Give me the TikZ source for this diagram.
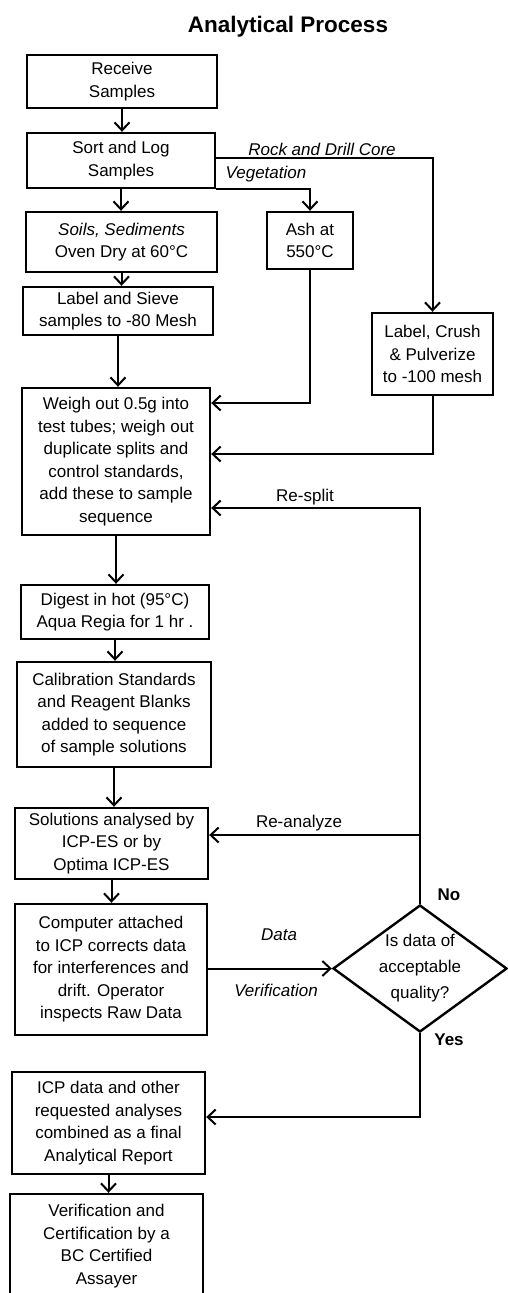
\documentclass[tikz,border=0pt]{standalone}
\usepackage{fontspec}
\setmainfont{Liberation Sans}
\usetikzlibrary{arrows.meta,shapes.geometric}
\begin{document}
\begin{tikzpicture}[x=1pt,y=-1pt,
  box/.style={draw, line width=2.4pt, inner sep=0pt, align=center, font=\fontsize{17}{22.5}\selectfont},
  dia/.style={draw, diamond, line width=2.4pt, inner sep=0pt},
  conn/.style={line width=2pt},
  arr/.style={conn, -{Straight Barb[length=8pt,width=15pt]}},
  lab/.style={font=\fontsize{17}{20}\selectfont, inner sep=0pt},
  ilab/.style={lab, font=\fontsize{17}{20}\selectfont\itshape},
  blab/.style={lab, font=\fontsize{17}{20}\selectfont\bfseries},
]
\useasboundingbox (0,0) rectangle (507,1293);
\fill[white] (0,0) rectangle (507,1293);

\node[font=\fontsize{22.5}{26}\selectfont\bfseries, inner sep=0pt] (title) at (288,27) {Analytical Process};

\node[box, minimum width=190pt, minimum height=53pt] (recv) at (122,81.5) {Receive\\Samples};
\node[box, minimum width=188pt, minimum height=55pt] (sort) at (121,160.5) {Sort and Log\\Samples};
\node[box, minimum width=191pt, minimum height=60pt] (soils) at (121.5,242) {\textit{Soils, Sediments}\\Oven Dry at 60°C};
\node[box, minimum width=86pt, minimum height=57pt] (ash) at (310,240.5) {Ash at\\550°C};
\node[box, minimum width=190pt, minimum height=48pt] (sieve) at (118,311) {Label and Sieve\\samples to -80 Mesh};
\node[box, minimum width=121pt, minimum height=82pt] (crush) at (432.5,354) {Label, Crush\\\& Pulverize\\to -100 mesh};
\node[box, minimum width=188pt, minimum height=147pt] (weigh) at (116,461.5) {Weigh out 0.5g into\\test tubes; weigh out\\duplicate splits and\\control standards,\\add these to sample\\sequence};
\node[box, minimum width=188pt, minimum height=54pt] (digest) at (115,612) {Digest in hot (95°C)\\Aqua Regia for 1 hr .};
\node[box, minimum width=194pt, minimum height=105pt] (calib) at (114,714.5) {Calibration Standards\\and Reagent Blanks\\added to sequence\\of sample solutions};
\node[box, minimum width=193pt, minimum height=71pt] (sol) at (111.5,843.5) {Solutions analysed by\\ICP-ES or by\\Optima ICP-ES};
\node[box, minimum width=192pt, minimum height=131pt] (comp) at (111,969.5) {Computer attached\\to ICP corrects data\\for interferences and\\drift. Operator\\inspects Raw Data};
\node[box, minimum width=193pt, minimum height=102pt] (icp) at (108.5,1123) {ICP data and other\\requested analyses\\combined as a final\\Analytical Report};
\node[box, minimum width=193pt, minimum height=104pt] (verif) at (106.5,1246) {Verification and\\Certification by a\\BC Certified\\Assayer};

\node[dia, minimum width=174pt, minimum height=127pt] (dec) at (420,968.5) {};
\node[align=center, inner sep=0pt, font=\fontsize{17}{26}\selectfont] (dectext) at (dec.center) {Is data of\\acceptable\\quality?};

% main vertical flow
\draw[arr] (recv.south) -- (recv.south |- sort.north);
\draw[arr] (sort.south) -- (sort.south |- soils.north);
\draw[arr] (soils.south) -- (soils.south |- sieve.north);
\draw[arr] (sieve.south) -- (sieve.south |- weigh.north);
\draw[arr] (weigh.south) -- (weigh.south |- digest.north);
\draw[arr] (digest.south) -- (digest.south |- calib.north);
\draw[arr] (calib.south) -- (calib.south |- sol.north);
\draw[arr] (sol.south) -- (sol.south |- comp.north);
\draw[arr] (icp.south) -- (icp.south |- verif.north);

% branches from sort
\coordinate (rk) at (sort.east |- 0,158);
\draw[arr] (rk) -| (crush.north);
\draw[arr] (sort.south east) -| (ash.north);
\node[ilab] (lrock) at (322,149) {Rock and Drill Core};
\node[ilab] (lveg) at (266,174) {Vegetation};

% into weigh box
\coordinate (a1) at (310,403);
\draw[arr] (ash.south) -- (a1) -- (a1 -| weigh.east);
\coordinate (c1) at (432.5,454);
\draw[arr] (crush.south) -- (c1) -- (c1 -| weigh.east);

% No loop
\coordinate (n1) at (420,508);
\coordinate (n2) at (420,835);
\draw[arr] (dec.north) -- (n1) -- (n1 -| weigh.east);
\draw[arr] (n2) -- (n2 -| sol.east);
\node[lab] (lresplit) at (305,497) {Re-split};
\node[lab] (lreanal) at (299,823) {Re-analyze};
\node[blab] (lno) at (449,895) {No};

% data verification
\draw[arr] (comp.east |- dec.west) -- (dec.west);
\node[ilab] (ldata) at (279,935) {Data};
\node[ilab] (lverif) at (276,990) {Verification};

% Yes
\coordinate (y1) at (420,1117);
\draw[arr] (dec.south) -- (y1) -- (y1 -| icp.east);
\node[blab] (lyes) at (449,1040) {Yes};
\end{tikzpicture}
\end{document}
